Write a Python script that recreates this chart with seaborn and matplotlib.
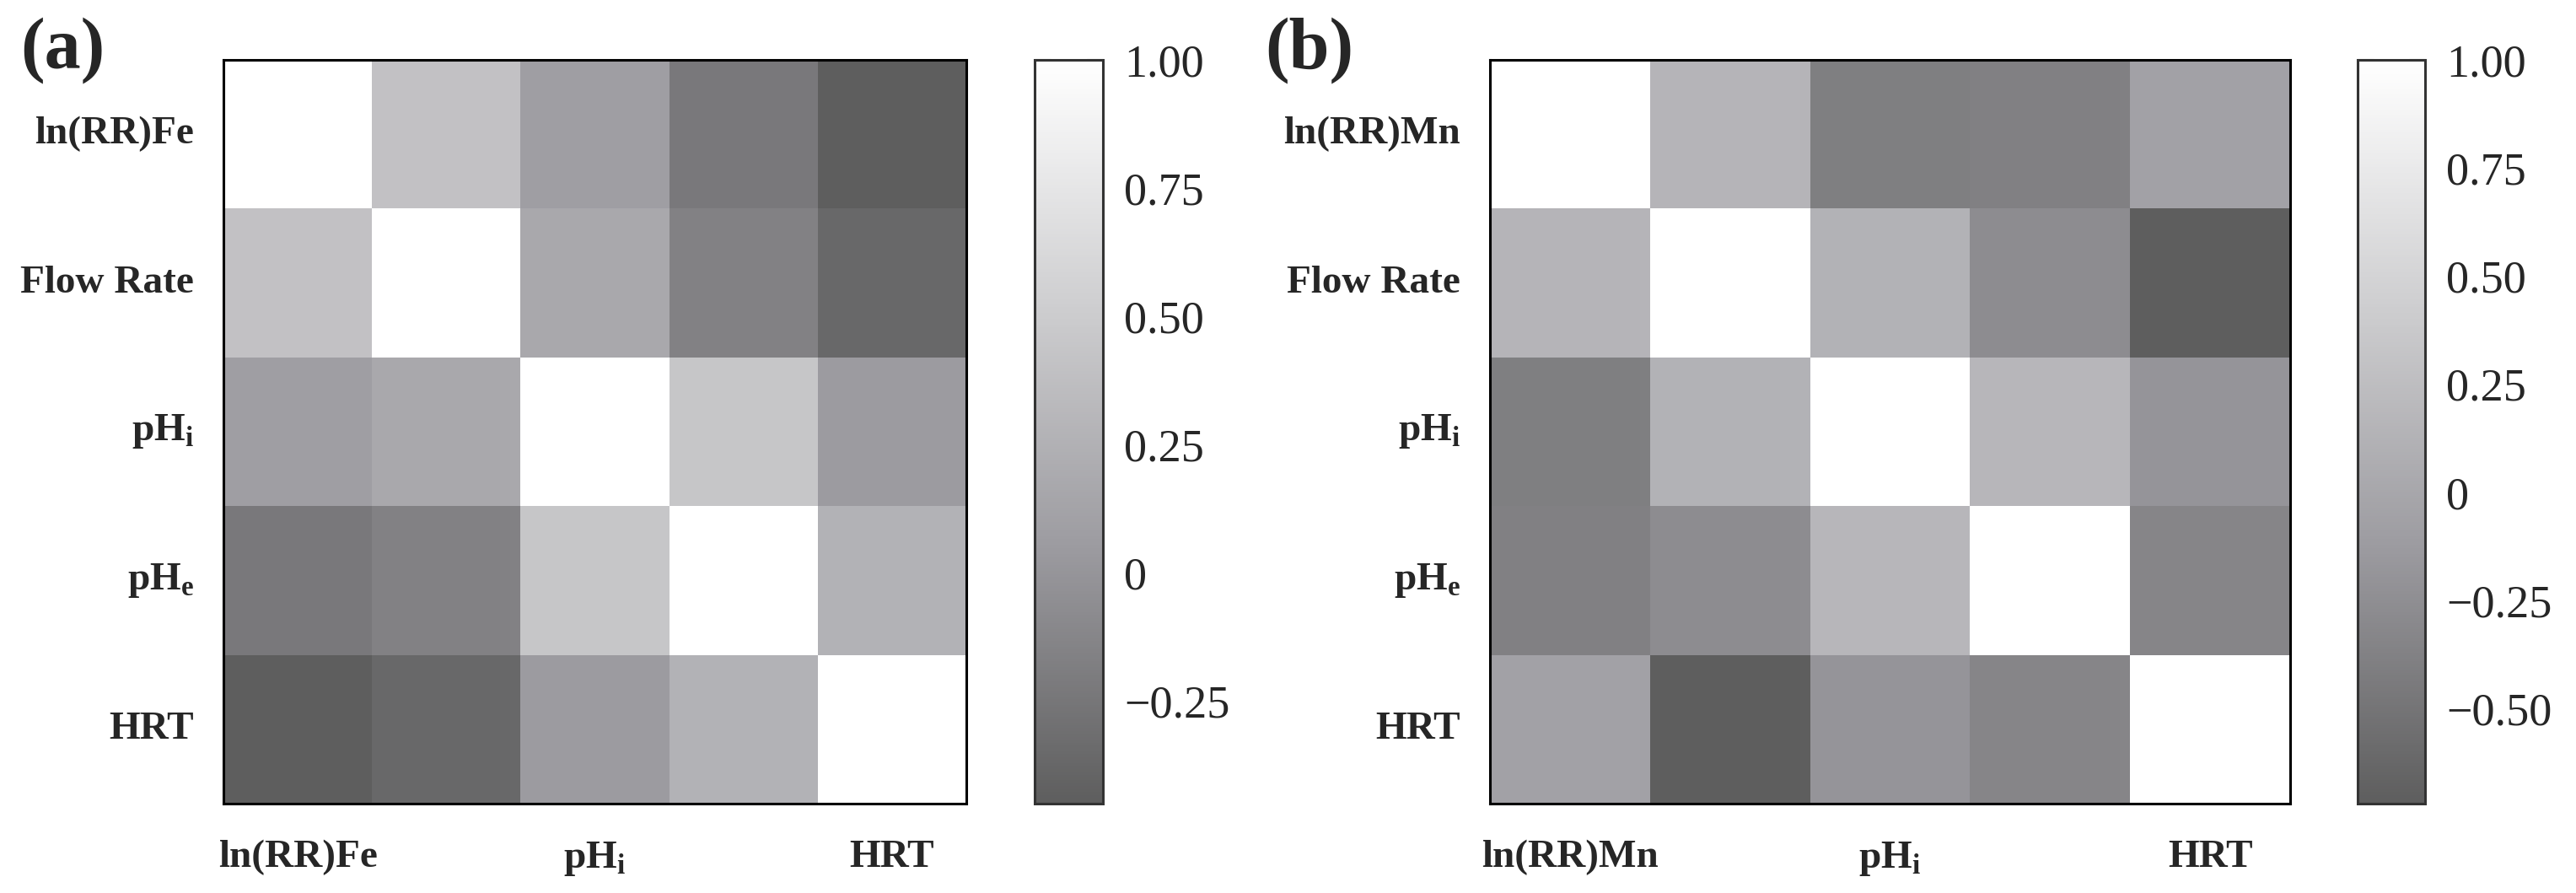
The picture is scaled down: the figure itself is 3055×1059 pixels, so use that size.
import numpy as np
import pandas as pd
import matplotlib
matplotlib.use("Agg")
import matplotlib.pyplot as plt
import seaborn as sns
from matplotlib.colors import LinearSegmentedColormap
from matplotlib.ticker import FuncFormatter

# ---------------- data ----------------
labels_a = ["ln(RR)Fe", "Flow Rate", r"pH$_\mathregular{i}$", r"pH$_\mathregular{e}$", "HRT"]
labels_b = ["ln(RR)Mn", "Flow Rate", r"pH$_\mathregular{i}$", r"pH$_\mathregular{e}$", "HRT"]

corr_a = [
    [1.00, 0.40, 0.08, -0.23, -0.45],
    [0.40, 1.00, 0.17, -0.16, -0.37],
    [0.08, 0.17, 1.00, 0.44, 0.05],
    [-0.23, -0.16, 0.44, 1.00, 0.26],
    [-0.45, -0.37, 0.05, 0.26, 1.00],
]
corr_b = [
    [1.00, 0.15, -0.40, -0.39, -0.06],
    [0.15, 1.00, 0.12, -0.27, -0.72],
    [-0.40, 0.12, 1.00, 0.17, -0.19],
    [-0.39, -0.27, 0.17, 1.00, -0.34],
    [-0.06, -0.72, -0.19, -0.34, 1.00],
]
cbar_ticks_a = [1.00, 0.75, 0.50, 0.25, 0.0, -0.25]
cbar_ticks_b = [1.00, 0.75, 0.50, 0.25, 0.0, -0.25, -0.50]
panel_labels = ["(a)", "(b)"]

# ---------------- style ----------------
sns.set_style("white")
plt.rcParams["font.family"] = ["Liberation Serif", "DejaVu Serif"]
plt.rcParams["mathtext.fontset"] = "custom"
plt.rcParams["mathtext.rm"] = "Liberation Serif"
plt.rcParams["mathtext.bf"] = "Liberation Serif:bold"
plt.rcParams["axes.unicode_minus"] = True

cmap = LinearSegmentedColormap.from_list(
    "greyish",
    [(0.0, "#5e5e5e"), (0.35, "#9d9ca1"), (0.65, "#cbcbcd"), (1.0, "#ffffff")],
)

W, H = 3055, 1059
fig = plt.figure(figsize=(W / 100, H / 100), dpi=100)

def fx(px):
    return px / W

top_px, bot_px = 71, 953
ax_bottom = 1 - bot_px / H
ax_height = (bot_px - top_px) / H

panels = [
    dict(data=corr_a, labels=labels_a, ticks=cbar_ticks_a,
         hm=(265, 1146), cb=(1227, 1308), lab=24),
    dict(data=corr_b, labels=labels_b, ticks=cbar_ticks_b,
         hm=(1767, 2716), cb=(2796, 2876), lab=1500),
]

fmt = FuncFormatter(lambda v, p: "0" if abs(v) < 1e-9 else f"{v:.2f}".replace("-", "\u2212"))

for i, p in enumerate(panels):
    ax = fig.add_axes([fx(p["hm"][0]), ax_bottom, fx(p["hm"][1] - p["hm"][0]), ax_height])
    cax = fig.add_axes([fx(p["cb"][0]), ax_bottom, fx(p["cb"][1] - p["cb"][0]), ax_height])
    df = pd.DataFrame(p["data"], index=p["labels"], columns=p["labels"])
    sns.heatmap(df, ax=ax, cbar_ax=cax, cmap=cmap, square=False,
                xticklabels=2, yticklabels=True, linewidths=0,
                cbar_kws={"ticks": p["ticks"], "format": fmt})
    for s in ax.spines.values():
        s.set_visible(True)
        s.set_color("black")
        s.set_linewidth(2.2)
    ax.tick_params(axis="both", length=0)
    ax.tick_params(axis="y", pad=25)
    ax.tick_params(axis="x", pad=31)
    for t in ax.get_yticklabels():
        t.set_rotation(0)
        t.set_fontsize(34)
        t.set_fontweight("bold")
        t.set_ha("right")
    for t in ax.get_xticklabels():
        t.set_rotation(0)
        t.set_fontsize(34)
        t.set_fontweight("bold")
    # colorbar
    cb = ax.collections[0].colorbar
    cb.outline.set_visible(True)
    cb.outline.set_edgecolor("#333333")
    cb.outline.set_linewidth(2.2)
    cax.tick_params(axis="y", which="both", direction="in", left=True, right=True,
                    length=14, width=2.2, color="#444444", labelsize=39, pad=18)
    fig.text(fx(p["lab"]), 1 - 20 / H, panel_labels[i], fontsize=62,
             fontweight="bold", va="top", ha="left")

fig.savefig("out.png", dpi=100)
